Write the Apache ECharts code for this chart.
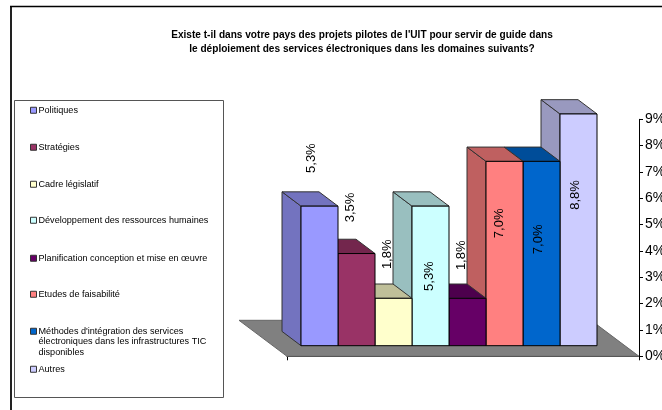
<!DOCTYPE html>
<html><head><meta charset="utf-8">
<style>html,body{margin:0;padding:0;background:#fff}#c{width:662px;height:410px}</style>
<script src="https://cdn.jsdelivr.net/npm/echarts@6/dist/echarts.min.js"></script>
</head><body><div id="c"></div>
<script>
const titleLines = ["Existe t-il dans votre pays des projets pilotes de l'UIT pour servir de guide dans", "le déploiement des services électroniques dans les domaines suivants?"];
const names = ["Politiques","Stratégies","Cadre législatif","Développement des ressources humaines","Planification conception et mise en œuvre","Etudes de faisabilité","Méthodes d'intégration des services électroniques dans les infrastructures TIC disponibles","Autres"];
const values = [5.3,3.5,1.8,5.3,1.8,7.0,7.0,8.8];
const colors = ["#9999FF","#993366","#FFFFCC","#CCFFFF","#660066","#FF8080","#0066CC","#CCCCFF"];
const labelOffsets = [[-8.5,-48],[-6.5,-46],[-6.5,-44],[-1.5,70],[-6.5,-43],[-5.5,62],[-3.5,78],[-3.5,81]];
const legendTops = [105,142,179,215,253,289,305,364];
const axisTicks = {min:0,max:9,interval:1};

const FONT = 'Liberation Sans';
const BAR_FRAC = 37/352, N = names.length;
const depth = [-19,-14.3], front = [-14,-10.6], floorDepth = [-48,-36];
function shade(hex,f){const n=parseInt(hex.slice(1),16);
  return 'rgb('+[(n>>16)&255,(n>>8)&255,n&255].map(v=>Math.round(v*f)).join(',')+')';}
function poly(pts,fill,stroke){return {type:'polygon',shape:{points:pts},style:{fill,stroke,lineWidth:1}};}

const barSeries = names.map((name,i)=>({
  type:'custom',name,coordinateSystem:'cartesian2d',z:20-i,
  itemStyle:{color:colors[i]},
  data:[[0,values[i]]],
  encode:{x:0,y:1},
  renderItem(p,api){
    const top=api.coord([0,api.value(1)]), base=api.coord([0,0]);
    const w=api.size([1,0])[0]*BAR_FRAC;
    const xl=top[0]+front[0]+(i-N/2)*w, xr=xl+w;
    const yt=top[1]+front[1], yb=base[1]+front[1];
    const [dx,dy]=depth, c=colors[i], s=shade(c,.75);
    const o=labelOffsets[i];
    return {type:'group',children:[
      poly([[xl,yt],[xl+dx,yt+dy],[xl+dx,yb+dy],[xl,yb]],s,'#333'),
      poly([[xl,yt],[xl+dx,yt+dy],[xr+dx,yt+dy],[xr,yt]],s,'#333'),
      {type:'rect',shape:{x:xl,y:yt,width:w,height:yb-yt},style:{fill:c,stroke:'#000',lineWidth:1}},
      {type:'text',x:(xl+xr)/2+o[0],y:yt+o[1],rotation:Math.PI/2,
       style:{text:api.value(1).toFixed(1).replace('.',',')+'%',fill:'#000',font:'13px "'+FONT+'"',align:'center',verticalAlign:'middle'}}
    ]};
  }
}));
const floorSeries = {
  type:'custom',name:'plancher',coordinateSystem:'cartesian2d',z:1,silent:true,
  data:[[0,0]],encode:{x:0,y:1},
  renderItem(p,api){
    const c=api.coord([0,0]), w=api.size([1,0])[0], l=c[0]-w/2, r=c[0]+w/2, y=c[1];
    const [dx,dy]=floorDepth;
    return poly([[l,y],[r,y],[r+dx,y+dy],[l+dx,y+dy]],'#808080','#666');
  }
};
function wrapLegend(n){
  if(n.startsWith('Méthodes')) return "\n\nMéthodes d'intégration des services\nélectroniques dans les infrastructures TIC\ndisponibles";
  return n;
}
const chart = echarts.init(document.getElementById('c'),null,{renderer:'canvas'});
chart.setOption({
  animation:false,backgroundColor:'#fff',
  title:{text:titleLines.join('\n'),left:357,top:22.5,textAlign:'center',
    textStyle:{fontFamily:FONT,fontSize:10.1,fontWeight:'bold',color:'#000',lineHeight:14.5}},
  grid:{left:287,right:23,top:119.3,bottom:53.7,outerBoundsMode:'none'},
  xAxis:{type:'category',data:[''],boundaryGap:true,
    axisLine:{lineStyle:{color:'#000',width:1}},
    axisTick:{show:true,alignWithLabel:false,length:4,lineStyle:{color:'#000'}},axisLabel:{show:false},splitLine:{show:false}},
  yAxis:{type:'value',position:'right',...axisTicks,
    axisLine:{show:true,lineStyle:{color:'#000',width:1}},
    axisTick:{show:true,length:4,lineStyle:{color:'#000'}},
    axisLabel:{formatter:'{value}%',color:'#000',fontFamily:FONT,fontSize:14,margin:6},
    splitLine:{show:false}},
  legend:names.map((n,i)=>({
    data:[n],left:30,top:legendTops[i],orient:'vertical',padding:0,
    icon:'rect',itemWidth:6,itemHeight:6,
    selectedMode:false,formatter:wrapLegend,
    itemStyle:{borderColor:'#333',borderWidth:1},
    textStyle:{fontFamily:FONT,fontSize:9.1,color:'#000',lineHeight:10.5,padding:[0,0,0,-3]}
  })),
  graphic:[
    {type:'line',shape:{x1:11,y1:6,x2:11,y2:410},style:{stroke:'#222',lineWidth:2},z:0},
    {type:'line',shape:{x1:10,y1:6.5,x2:662,y2:6.5},style:{stroke:'#000',lineWidth:1.5},z:0},
    {type:'rect',shape:{x:14.5,y:100.5,width:209,height:297},style:{fill:'#fff',stroke:'#555',lineWidth:1},z:0}
  ],
  series:[floorSeries,...barSeries]
});
</script></body></html>
